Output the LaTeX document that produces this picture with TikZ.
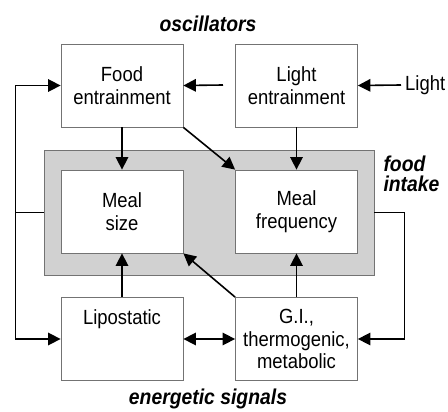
\documentclass[tikz,border=0pt]{standalone}
\usepackage{fontspec}
\setmainfont[FakeStretch=0.9]{Liberation Sans}
\usetikzlibrary{arrows.meta}
\begin{document}
\begin{tikzpicture}[x=1pt,y=-1pt,
  box/.style={draw=black!55,fill=white,line width=0.8pt,minimum width=122pt,minimum height=83pt,inner sep=0pt,align=center,font=\fontsize{20.5}{22.5}\selectfont},
  lab/.style={font=\fontsize{21.5}{20}\selectfont\bfseries\itshape},
  tip/.style={Triangle[length=12.5pt,width=12.5pt]},
  arr/.style={line width=1.6pt,-{Triangle[length=12.5pt,width=12.5pt]}},
  darr/.style={line width=1.6pt,{Triangle[length=12.5pt,width=12.5pt]}-{Triangle[length=12.5pt,width=12.5pt]}}]
\useasboundingbox (0,0) rectangle (448,412);
\node[draw=black!55,fill=black!18,line width=0.8pt,minimum width=330pt,minimum height=125pt,inner sep=0pt] (gray) at (209,212.5) {};
\node[box] (fe) at (122,85.5) {Food\\entrainment};
\node[box] (le) at (296.5,85.5) {Light\\entrainment};
\node[box] (ms) at (122,211.5) {Meal\\size};
\node[box] (mf) at (296.5,211.5) {Meal\\frequency};
\node[box] (lp) at (122,339) {Lipostatic\\[22pt]};
\node[box] (gi) at (296.5,339) {G.I.,\\thermogenic,\\metabolic};
\node[lab] (osc) at (208,24) {oscillators};
\node[lab,anchor=west,align=left] (fi) at (380,174) {food\\intake};
\node[lab] (es) at (208,399) {energetic signals};
\node[font=\fontsize{20.5}{22}\selectfont,anchor=west,inner sep=0pt] (light) at (405,85) {Light};
\coordinate (lstart) at (223,85);
\draw[arr] (light.west) ++(-4,0) -- (le.east);
\draw[arr] (lstart) -- (fe.east);
\draw[arr] (fe.south) -- (ms.north);
\draw[arr] (fe.south east) -- (mf.north west);
\draw[arr] (le.south) -- (mf.north);
\draw[arr] (lp.north) -- (ms.south);
\draw[arr] (gi.north west) -- (ms.south east);
\draw[arr] (gi.north) -- (mf.south);
\draw[darr] (lp.east) -- (gi.east -| gi.west);
\draw[arr] (gray.west) -- ++(-28,0) |- (fe.west);
\draw[arr] (gray.west) -- ++(-28,0) |- (lp.west);
\draw[arr] (gray.east) -- ++(30,0) |- (gi.east);
\end{tikzpicture}
\end{document}
